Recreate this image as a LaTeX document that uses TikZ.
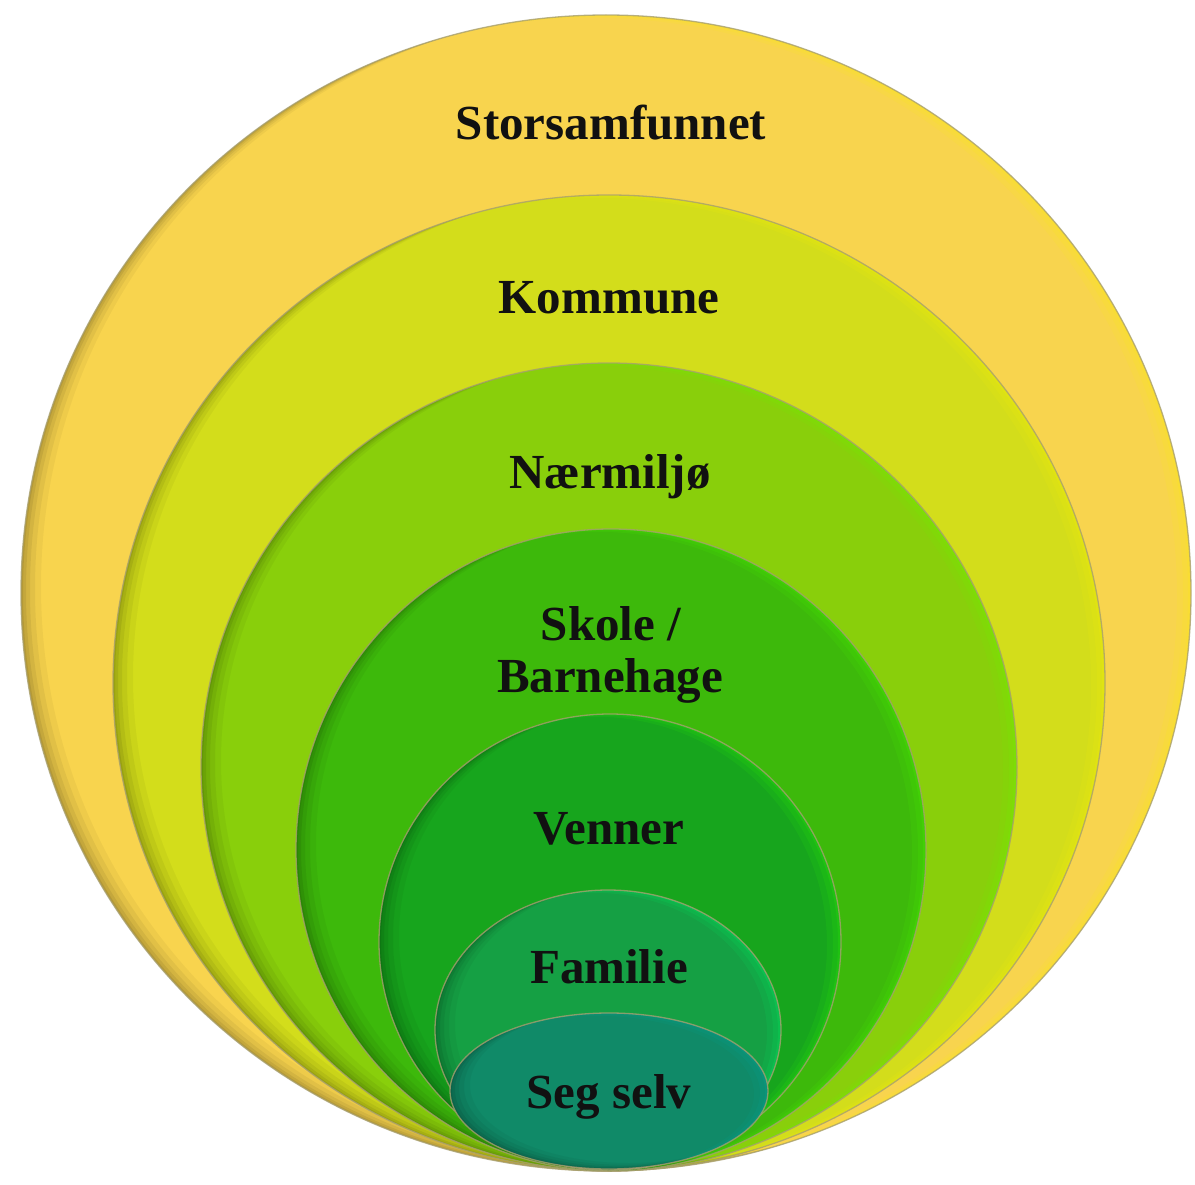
\documentclass[tikz,border=0pt]{standalone}
\usepackage{fontspec}
\setmainfont{Liberation Serif}
\definecolor{cStor}{HTML}{F8D44E}
\definecolor{cKom}{HTML}{D3DD1B}
\definecolor{cNaer}{HTML}{89CF0B}
\definecolor{cSkole}{HTML}{3DB90B}
\definecolor{cVenner}{HTML}{17A51D}
\definecolor{cFam}{HTML}{15A044}
\definecolor{cSeg}{HTML}{108A68}
\definecolor{rim}{HTML}{A8A070}
\definecolor{txt}{HTML}{111111}
\newcommand\layerdisc[6]{% cx cy rx ry color highlight
  \fill[#5] (#1,#2) ellipse [x radius=#3pt, y radius=#4pt];
  \begin{scope}
    \clip (#1,#2) ellipse [x radius=#3pt, y radius=#4pt];
    \foreach \d/\o in {20/0.04,14/0.05,9/0.06,5/0.07,2/0.08}{
      \fill[black, opacity=\o, even odd rule]
        ({#1-#3-60},{#2-#4-60}) rectangle ({#1+#3+60},{#2+#4+60})
        ({#1+\d},{#2-\d*0.3}) ellipse [x radius=#3pt, y radius=#4pt];
    }
    \foreach \d/\o in {14/0.10,8/0.12,3/0.16}{
      \fill[#6, opacity=\o, even odd rule]
        ({#1-#3-60},{#2-#4-60}) rectangle ({#1+#3+60},{#2+#4+60})
        ({#1-\d},{#2+\d*0.2}) ellipse [x radius=#3pt, y radius=#4pt];
    }
  \end{scope}
  \draw[rim, line width=1.3pt, opacity=0.8] (#1,#2) ellipse [x radius=#3pt, y radius=#4pt];
}
\tikzset{lbl/.style={font=\bfseries\fontsize{49}{53}\selectfont, text=txt, anchor=base, inner sep=0pt, align=center}}
\begin{document}
\begin{tikzpicture}[x=1pt,y=-1pt]
  \useasboundingbox (0,0) rectangle (1195,1185);
  \fill[white] (0,0) rectangle (1195,1185);
  \layerdisc{606}{593}{585}{578}{cStor}{yellow}
  \layerdisc{609}{683}{496}{488}{cKom}{yellow}
  \layerdisc{609}{767}{408}{404}{cNaer}{green!60!yellow}
  \layerdisc{611}{850}{315}{321}{cSkole}{green!70!yellow}
  \layerdisc{610}{942}{231}{228}{cVenner}{green!80!yellow}
  \layerdisc{608}{1030}{173}{140}{cFam}{green!60!cyan}
  \layerdisc{609}{1091}{159}{78}{cSeg}{cyan!50!green}
  \node[lbl] (stor) at (611,140) {Storsamfunnet};
  \node[lbl] (kom) at (609,313) {Kommune};
  \node[lbl] (naer) at (610,488) {Nærmiljø};
  \node[lbl] (skole) at (611,640) {Skole /};
  \node[lbl] (barn) at (610,692) {Barnehage};
  \node[lbl] (venner) at (609,844) {Venner};
  \node[lbl] (fam) at (609,983) {Familie};
  \node[lbl] (seg) at (609,1108) {Seg selv};
\end{tikzpicture}
\end{document}
